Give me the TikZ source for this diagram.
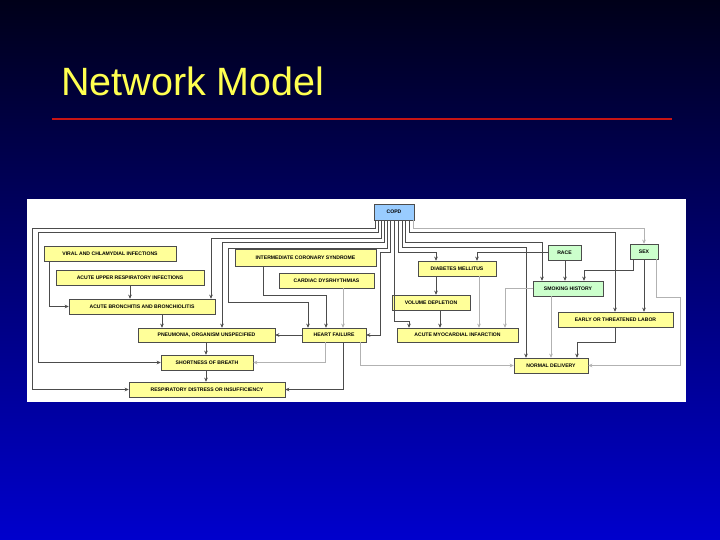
\documentclass[tikz,border=0pt]{standalone}
\usepackage{fontspec}
\setmainfont{Liberation Sans}
\usetikzlibrary{arrows.meta}
\definecolor{yb}{RGB}{255,255,153}
\definecolor{gb}{RGB}{204,255,204}
\definecolor{bb}{RGB}{153,204,255}
\definecolor{ttl}{RGB}{255,255,80}
\newcommand{\bx}[7]{\node[box,fill=#6,minimum width={(#4-#2)*1pt},minimum height={(#5-#3)*1pt}] (#1) at ({(#2+#4)/2},{(#3+#5)/2}) {#7};}
\begin{document}
\begin{tikzpicture}[x=1pt,y=-1pt,
 box/.style={draw=black!70,line width=0.6pt,inner sep=0pt,font=\fontsize{5.1}{6}\selectfont\bfseries},
 e/.style={draw=black!70,line width=0.5pt,-{Stealth[length=4pt,width=3.6pt]}},
 el/.style={e,draw=black!30}]
\useasboundingbox (0,0) rectangle (720,540);
\shade[top color={rgb,255:red,0;green,0;blue,25},bottom color={rgb,255:red,0;green,0;blue,205}] (0,0) rectangle (720,540);
\node[anchor=base west,text=ttl,font=\fontsize{39.5}{44}\selectfont,inner sep=0pt] (title) at (61,96) {Network Model};
\draw[draw={rgb,255:red,200;green,20;blue,20},line width=1.5pt] (52,119) -- (672,119);
\fill[white] (27,199) rectangle (686,402);
\bx{copd}{374}{204}{414}{220}{bb}{COPD}
\bx{race}{548}{245}{581}{260}{gb}{RACE}
\bx{sex}{630}{244}{658}{259}{gb}{SEX}
\bx{dm}{418}{261}{496}{276}{yb}{DIABETES MELLITUS}
\bx{smk}{533}{281}{603}{296}{gb}{SMOKING HISTORY}
\bx{vol}{392}{295}{470}{310}{yb}{VOLUME DEPLETION}
\bx{etl}{558}{312}{673}{327}{yb}{EARLY OR THREATENED LABOR}
\bx{ami}{397}{328}{518}{342}{yb}{ACUTE MYOCARDIAL INFARCTION}
\bx{nd}{514}{358}{588}{373}{yb}{NORMAL DELIVERY}
\bx{hf}{302}{328}{366}{342}{yb}{HEART FAILURE}
\bx{vir}{44}{246}{176}{261}{yb}{VIRAL AND CHLAMYDIAL INFECTIONS}
\bx{aur}{56}{270}{204}{285}{yb}{ACUTE UPPER RESPIRATORY INFECTIONS}
\bx{abr}{69}{299}{215}{314}{yb}{ACUTE BRONCHITIS AND BRONCHIOLITIS}
\bx{ics}{235}{249}{376}{266}{yb}{INTERMEDIATE CORONARY SYNDROME}
\bx{cd}{279}{273}{374}{288}{yb}{CARDIAC DYSRHYTHMIAS}
\bx{pn}{138}{328}{275}{342}{yb}{PNEUMONIA, ORGANISM UNSPECIFIED}
\bx{sob}{161}{355}{253}{370}{yb}{SHORTNESS OF BREATH}
\bx{rd}{129}{382}{285}{397}{yb}{RESPIRATORY DISTRESS OR INSUFFICIENCY}
% left side from COPD
\draw[e] (375,0 |- copd.south) |- (32,228) |- (rd.west);
\draw[e] (378,0 |- copd.south) |- (38,232) |- (sob.west);
\draw[e] (381,0 |- copd.south) |- (211,238) -- (211,0 |- abr.north);
\draw[e] (384,0 |- copd.south) |- (222,242) -- (222,0 |- pn.north);
\draw[e] (387,0 |- copd.south) |- (228,248) |- (308,302) -- (308,0 |- hf.north);
\draw[e] (390,0 |- copd.south) |- (380,252) |- (hf.east);
\draw[e] (49,0 |- vir.south) |- (abr.west);
\draw[e] (130,0 |- aur.south) -- (130,0 |- abr.north);
\draw[e] (162,0 |- abr.south) -- (162,0 |- pn.north);
\draw[e] (263,0 |- ics.south) |- (326,295) -- (326,0 |- hf.north);
\draw[el] (343,0 |- cd.south) -- (343,0 |- hf.north);
\draw[e] (hf.west) -- (pn.east);
\draw[e] (206,0 |- pn.south) -- (206,0 |- sob.north);
\draw[el] (325,0 |- hf.south) |- (sob.east);
\draw[e] (206,0 |- sob.south) -- (206,0 |- rd.north);
\draw[e] (343,0 |- hf.south) |- (rd.east);
% right side
\draw[el] (413,0 |- copd.south) |- (644,228) -- (644,0 |- sex.north);
\draw[e] (409,0 |- copd.south) |- (615,232) -- (615,0 |- etl.north);
\draw[e] (405,0 |- copd.south) |- (542,242) -- (542,0 |- smk.north);
\draw[e] (402,0 |- copd.south) |- (526,247) -- (526,0 |- nd.north);
\draw[e] (398,0 |- copd.south) |- (436,252) -- (436,0 |- dm.north);
\draw[e] (394,0 |- copd.south) |- (409,321) -- (409,0 |- ami.north);
\draw[e] (race.west) -| (477,0 |- dm.north);
\draw[e] (565,0 |- race.south) -- (565,0 |- smk.north);
\draw[e] (633,0 |- sex.south) |- (584,270) -- (584,0 |- smk.north);
\draw[e] (644,0 |- sex.south) -- (644,0 |- etl.north);
\draw[el] (656,0 |- sex.south) |- (680,297) |- (nd.east);
\draw[e] (436,0 |- dm.south) -- (436,0 |- vol.north);
\draw[el] (479,0 |- dm.south) -- (479,0 |- ami.north);
\draw[e] (440,0 |- vol.south) -- (440,0 |- ami.north);
\draw[el] (smk.west) -| (505,0 |- ami.north);
\draw[el] (551,0 |- smk.south) -- (551,0 |- nd.north);
\draw[e] (615,0 |- etl.south) |- (577,342) -- (577,0 |- nd.north);
\draw[el] (360,0 |- hf.south) |- (nd.west);
\end{tikzpicture}
\end{document}
